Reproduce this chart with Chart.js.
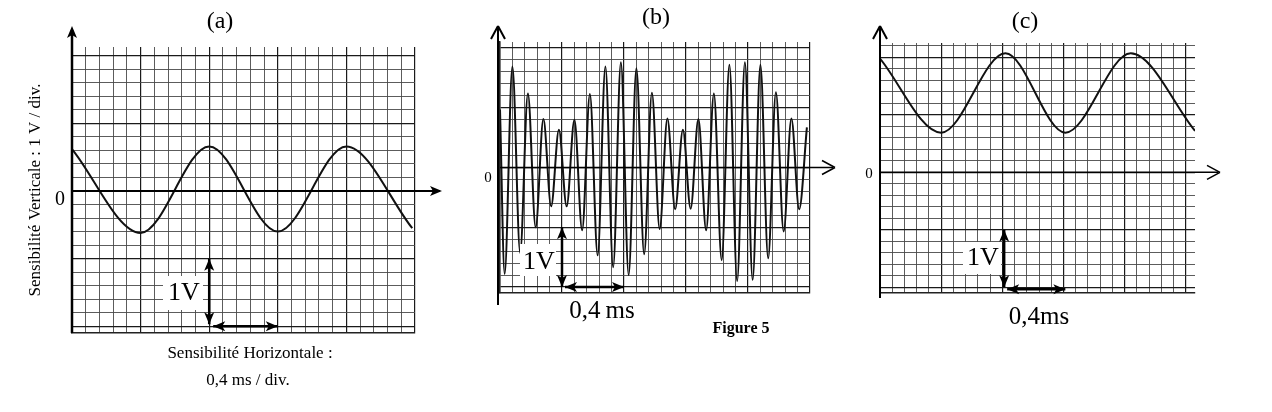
<!DOCTYPE html>
<html><head><meta charset="utf-8">
<script src="https://cdn.jsdelivr.net/npm/chart.js@4/dist/chart.umd.min.js"></script>
<style>html,body{margin:0;background:#fff;width:1272px;height:412px;overflow:hidden}
canvas{position:absolute;left:0;top:0}</style></head><body>
<canvas id="ca" width="1272" height="412"></canvas>
<canvas id="cb" width="1272" height="412"></canvas>
<canvas id="cc" width="1272" height="412"></canvas>
<script>
// Panel (a)
const aX = [0, 1, 2, 3, 4, 4.96];
const aY = [0.62, -0.62, 0.66, -0.6, 0.66, -0.55];
// Panel (b) - start point then alternating trough / peak
const bX = [0,0.075,0.2,0.325,0.45,0.575,0.7,0.825,0.95,1.075,1.2,1.325,1.45,1.575,1.7,1.825,1.95,2.075,2.2,2.325,2.45,2.575,2.7,2.825,2.95,3.075,3.2,3.325,3.45,3.575,3.7,3.825,3.95,4.075,4.2,4.325,4.45,4.575,4.7,4.825,4.95];
const bY = [0.97,-1.78,1.69,-1.43,1.24,-1.0,0.81,-0.65,0.63,-0.65,0.8,-1.05,1.23,-1.47,1.69,-1.67,1.76,-1.8,1.66,-1.45,1.25,-1.03,0.82,-0.7,0.63,-0.69,0.81,-1.05,1.24,-1.55,1.72,-1.9,1.76,-1.88,1.72,-1.52,1.26,-1.07,0.82,-0.7,0.67];
// Panel (c)
const cX = [0, 1.0, 2.05, 3.03, 4.1, 5.15];
const cY = [1.98, 0.69, 2.07, 0.69, 2.07, 0.72];
// grid ticks (minor division = 0.2)
const minorStep = 0.2;

function ticksBetween(min,max){const t=[];for(let v=Math.ceil(min/minorStep-1e-6);v*minorStep<=max+1e-6;v++)t.push({value:+(v*minorStep).toFixed(3)});return t;}
function isMajor(v){return Math.abs(v-Math.round(v))<1e-6;}

function arrowHead(ctx,x,y,ang,filled){
  const L=filled?12:13,W=filled?5:7;
  ctx.save();ctx.translate(x,y);ctx.rotate(ang);
  ctx.beginPath();ctx.moveTo(0,0);ctx.lineTo(-L,-W);
  if(filled){ctx.lineTo(-L+3,0);ctx.lineTo(-L,W);ctx.closePath();ctx.fill();}
  else{ctx.moveTo(0,0);ctx.lineTo(-L,W);ctx.stroke();}
  ctx.restore();
}
function line(ctx,x1,y1,x2,y2,w){ctx.lineWidth=w;ctx.beginPath();ctx.moveTo(x1,y1);ctx.lineTo(x2,y2);ctx.stroke();}
function dbl(ctx,x1,y1,x2,y2){ctx.fillStyle='#000';ctx.strokeStyle='#000';line(ctx,x1,y1,x2,y2,2.5);
  const a=Math.atan2(y2-y1,x2-x1);arrowHead(ctx,x2,y2,a,true);arrowHead(ctx,x1,y1,a+Math.PI,true);}

function make(id,xs,ys,xmin,xmax,ymin,ymax,pad,extra){
  const data=xs.map((x,i)=>({x,y:ys[i]}));
  const gcol=c=>isMajor(c.tick.value)?'#1a1a1a':'#4a4a4a';
  const gw=c=>isMajor(c.tick.value)?1.2:0.9;
  return new Chart(document.getElementById(id),{
    type:'line',
    data:{datasets:[{data,borderColor:'#111',borderWidth:2,pointRadius:0,cubicInterpolationMode:'monotone',fill:false}]},
    options:{responsive:false,animation:false,events:[],
      layout:{padding:pad},
      plugins:{legend:{display:false},tooltip:{enabled:false}},
      scales:{
        x:{type:'linear',min:xmin,max:xmax,afterBuildTicks:s=>{s.ticks=ticksBetween(xmin,xmax);},
           ticks:{display:false},border:{display:true,color:'#222',width:1.5},
           grid:{drawTicks:false,color:gcol,lineWidth:gw}},
        y:{type:'linear',min:ymin,max:ymax,afterBuildTicks:s=>{s.ticks=ticksBetween(ymin,ymax);},
           ticks:{display:false},border:{display:true,color:'#222',width:1.5},
           grid:{drawTicks:false,color:gcol,lineWidth:gw}}
      }},
    plugins:[{id:'deco',afterDraw:(ch)=>{const ctx=ch.ctx;ctx.save();extra(ctx,ch.scales.x,ch.scales.y,ch.chartArea);ctx.restore();}}]
  });
}
const serif='"Liberation Serif","DejaVu Serif",serif';

make('ca',aX,aY,0,5,-2.1,2.13,{left:72,right:857,top:47,bottom:79},(ctx,x,y,a)=>{
  ctx.strokeStyle='#000';ctx.fillStyle='#000';
  const y0=y.getPixelForValue(0);
  line(ctx,a.left,y0,440,y0,2);arrowHead(ctx,442,y0,0,true);
  line(ctx,a.left,a.bottom,a.left,30,2.5);arrowHead(ctx,a.left,26,-Math.PI/2,true);
  ctx.font='20px '+serif;ctx.textAlign='center';ctx.textBaseline='middle';
  ctx.fillText('0',60,200);
  ctx.font='24px '+serif;ctx.fillText('(a)',220,22);
  ctx.font='17px '+serif;ctx.fillText('Sensibilité Horizontale :',250,354);ctx.fillText('0,4 ms / div.',248,381);
  ctx.save();ctx.translate(36,190);ctx.rotate(-Math.PI/2);ctx.fillText('Sensibilité Verticale : 1 V / div.',0,0);ctx.restore();
  const xa=x.getPixelForValue(2),xb=x.getPixelForValue(3),yl=y.getPixelForValue(-2.0),yh=y.getPixelForValue(-1);
  ctx.fillStyle='#fff';ctx.fillRect(163,276,40,34);ctx.fillStyle='#000';
  ctx.font='26px '+serif;ctx.fillText('1V',184,293);
  dbl(ctx,xa,yl-2,xa,yh);dbl(ctx,xa+4,yl,xb,yl);
});

make('cb',bX,bY,0,5,-2.1,2.1,{left:500,right:462,top:42,bottom:119},(ctx,x,y,a)=>{
  ctx.strokeStyle='#000';ctx.fillStyle='#000';
  const y0=y.getPixelForValue(0);
  line(ctx,a.left,y0,833,y0,1.5);arrowHead(ctx,835,y0,0,false);
  line(ctx,a.left-2,305,a.left-2,28,2);arrowHead(ctx,a.left-2,26,-Math.PI/2,false);
  ctx.textAlign='center';ctx.textBaseline='middle';
  ctx.font='15px '+serif;ctx.fillText('0',488,178);
  ctx.font='24px '+serif;ctx.fillText('(b)',656,18);
  const xa=x.getPixelForValue(1),xb=x.getPixelForValue(2),yl=y.getPixelForValue(-2.0),yh=y.getPixelForValue(-1);
  ctx.fillStyle='#fff';ctx.fillRect(520,244,36,32);ctx.fillStyle='#000';
  ctx.font='26px '+serif;ctx.fillText('1V',539,262);
  dbl(ctx,xa,yl,xa,yh);dbl(ctx,xa+3,yl,xb,yl);
  ctx.font='25px '+serif;ctx.fillText('0,4\u2009ms',602,311);
  ctx.font='bold 16px '+serif;ctx.fillText('Figure 5',741,329);
});

make('cc',cX,cY,0,5.15,-2.1,2.25,{left:880,right:77,top:43,bottom:119},(ctx,x,y,a)=>{
  ctx.strokeStyle='#000';ctx.fillStyle='#000';
  const y0=y.getPixelForValue(0);
  line(ctx,a.left,y0,1218,y0,1.5);arrowHead(ctx,1220,y0,0,false);
  line(ctx,a.left,298,a.left,28,2);arrowHead(ctx,a.left,26,-Math.PI/2,false);
  ctx.textAlign='center';ctx.textBaseline='middle';
  ctx.font='15px '+serif;ctx.fillText('0',869,174);
  ctx.font='24px '+serif;ctx.fillText('(c)',1025,22);
  const xa=x.getPixelForValue(2.03),xb=x.getPixelForValue(3.03),yl=y.getPixelForValue(-2.0),yh=y.getPixelForValue(-1);
  ctx.fillStyle='#fff';ctx.fillRect(963,242,38,32);ctx.fillStyle='#000';
  ctx.font='26px '+serif;ctx.fillText('1V',983,258);
  dbl(ctx,xa,yl,xa,yh);dbl(ctx,xa+3,yl+2,xb,yl+2);
  ctx.font='25px '+serif;ctx.fillText('0,4ms',1039,317);
});
</script></body></html>
